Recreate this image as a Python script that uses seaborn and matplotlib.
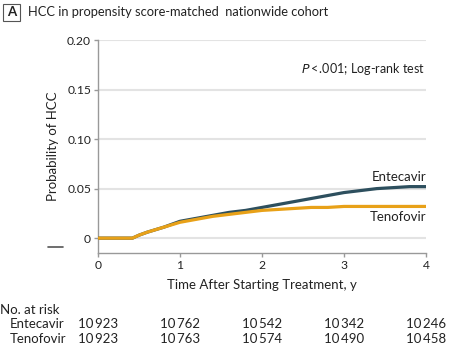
import matplotlib
matplotlib.use("Agg")
import matplotlib.pyplot as plt
import seaborn as sns
import pandas as pd
from matplotlib.lines import Line2D
from matplotlib.patches import Rectangle

# ---- data ----
times = [0, 0.42, 0.5, 0.6, 0.8, 1.0, 1.2, 1.4, 1.6, 1.8, 2.0, 2.2, 2.4,
         2.6, 2.8, 3.0, 3.2, 3.4, 3.6, 3.8, 4.0]
entecavir = [0, 0, 0.003, 0.006, 0.011, 0.017, 0.020, 0.023, 0.026, 0.028,
             0.031, 0.034, 0.037, 0.040, 0.043, 0.046, 0.048, 0.050, 0.051,
             0.052, 0.052]
tenofovir = [0, 0, 0.003, 0.006, 0.011, 0.016, 0.019, 0.022, 0.024, 0.026,
             0.028, 0.029, 0.030, 0.031, 0.031, 0.032, 0.032, 0.032, 0.032,
             0.032, 0.032]
groups = ["Entecavir", "Tenofovir"]
risk_times = [0, 1, 2, 3, 4]
risk_entecavir = ["10\u2009923", "10\u2009762", "10\u2009542", "10\u2009342", "10\u2009246"]
risk_tenofovir = ["10\u2009923", "10\u2009763", "10\u2009574", "10\u2009490", "10\u2009458"]
yticks = [0, 0.05, 0.10, 0.15, 0.20]
ytick_labels = ["0", "0.05", "0.10", "0.15", "0.20"]
xticks = [0, 1, 2, 3, 4]

colors = {"Entecavir": "#2d4f5e", "Tenofovir": "#e8a118"}

df = pd.DataFrame({
    "time": times * 2,
    "prob": entecavir + tenofovir,
    "group": ["Entecavir"] * len(times) + ["Tenofovir"] * len(times),
})

sns.set_theme(style="white")
plt.rcParams["font.family"] = ["Lato", "DejaVu Sans"]

fig = plt.figure(figsize=(4.5, 3.47), dpi=100)
W, H = 450, 347
ax = fig.add_axes([98 / W, 1 - 253 / H, (426 - 98) / W, (253 - 40) / H])

for y in yticks:
    ax.axhline(y, color="#e3e3e3", lw=1.5, zorder=0)

sns.lineplot(data=df, x="time", y="prob", hue="group", hue_order=groups,
             palette=colors, lw=2.3, legend=False, ax=ax, zorder=3)

ax.set_xlim(0, 4)
ax.set_ylim(-0.015, 0.20)
ax.set_xticks(xticks)
ax.set_xticklabels([str(t) for t in xticks])
ax.set_yticks(yticks)
ax.set_yticklabels(ytick_labels)
ax.tick_params(axis="both", which="both", direction="out", length=3,
               width=1, color="#999999", labelsize=8.7, pad=2, labelcolor="#222222")
ax.tick_params(axis="both", bottom=True, left=True)
for s in ["top", "right"]:
    ax.spines[s].set_visible(False)
for s in ["left", "bottom"]:
    ax.spines[s].set_color("#999999")
    ax.spines[s].set_linewidth(1)
ax.set_xlabel("Time After Starting Treatment, y", fontsize=9.5, color="#222222", labelpad=6)
ax.set_ylabel("Probability of HCC", fontsize=9.5, color="#222222", labelpad=6)

ax.text(4, 0.0615, "Entecavir", ha="right", va="center", fontsize=9.5, color="#222222")
ax.text(4, 0.0212, "Tenofovir", ha="right", va="center", fontsize=9.5, color="#222222")
ax.text(3.99, 0.171, "$P$\u2009<\u2009.001; Log-rank test", ha="right", va="center",
        fontsize=9, color="#222222")

# axis-break dash
fig.add_artist(Line2D([48 / W, 63 / W], [1 - 247 / H, 1 - 247 / H], color="#555555", lw=1.2))

# panel title
fig.add_artist(Rectangle((3 / W, 1 - 21 / H), 17 / W, 17 / H, fill=False,
                         edgecolor="#555555", lw=0.8, transform=fig.transFigure))
fig.text(11.5 / W, 1 - 12.5 / H, "A", ha="center", va="center", fontsize=9.5,
         fontweight="bold", color="#222222")
fig.text(28 / W, 1 - 12.5 / H, "HCC in propensity score-matched  nationwide cohort",
         ha="left", va="center", fontsize=9.3, color="#222222")

# risk table
fig.text(0 / W, 1 - 310 / H, "No. at risk", ha="left", va="center", fontsize=9.5, color="#222222")
for row_y, name, vals in [(324, "Entecavir", risk_entecavir), (339, "Tenofovir", risk_tenofovir)]:
    fig.text(10 / W, 1 - row_y / H, name, ha="left", va="center", fontsize=9.5, color="#222222")
    for t, v in zip(risk_times, vals):
        xf = ax.transData.transform((t, 0))[0] / fig.bbox.width
        fig.text(xf, 1 - row_y / H, v, ha="center", va="center", fontsize=9.5, color="#222222")

fig.savefig("out.png", dpi=100)
